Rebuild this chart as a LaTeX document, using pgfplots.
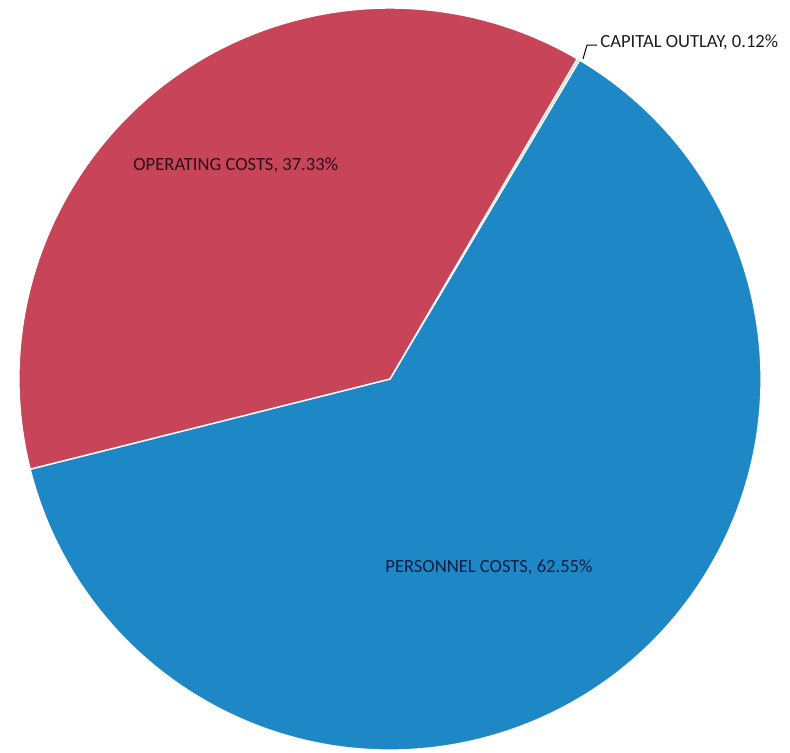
\documentclass[border=0pt]{standalone}
\usepackage{pgfplots}
\pgfplotsset{compat=1.18}
\usepackage{fontspec}
\setmainfont{Carlito}
\definecolor{pers}{RGB}{30,136,198}
\definecolor{oper}{RGB}{200,68,88}
\definecolor{capc}{RGB}{215,230,200}
% slice values (percent)
\def\vA{62.55}% Personnel costs
\def\vB{37.33}% Operating costs
\def\vC{0.12}% Capital outlay
\pgfmathsetmacro\aA{59.25}
\pgfmathsetmacro\aB{\aA-3.6*\vA}
\pgfmathsetmacro\aC{\aB-3.6*\vB}
\pgfmathsetmacro\aD{\aC-3.6*\vC}
\def\R{185.5pt}
\begin{document}
\begin{tikzpicture}
\begin{axis}[scale only axis, width=395pt, height=376pt,
  xmin=0, xmax=790, ymin=0, ymax=752, hide axis, clip=false]
\coordinate (SW) at (axis cs:0,0);
\coordinate (NE) at (axis cs:790,752);
\fill[pers, draw=white, line width=0.7pt] (axis cs:390,373) -- ++(\aA:\R) arc[start angle=\aA, end angle=\aB, radius=\R] -- cycle;
\fill[oper, draw=white, line width=0.7pt] (axis cs:390,373) -- ++(\aB:\R) arc[start angle=\aB, end angle=\aC, radius=\R] -- cycle;
\fill[capc, draw=white, line width=0.3pt] (axis cs:390,373) -- ++(\aC:\R) arc[start angle=\aC, end angle=\aD, radius=\R] -- cycle;
\node[anchor=west, inner sep=0pt, font=\fontsize{9.3}{11}\selectfont, text={rgb,255:red,45;green,15;blue,25}] at (axis cs:133,587) {OPERATING COSTS, 37.33\%};
\node[anchor=west, inner sep=0pt, font=\fontsize{9.3}{11}\selectfont, text={rgb,255:red,15;green,30;blue,70}] at (axis cs:385,185) {PERSONNEL COSTS, 62.55\%};
\node[anchor=west, inner sep=0pt, font=\fontsize{9.3}{11}\selectfont, text={rgb,255:red,30;green,30;blue,30}] at (axis cs:600,710) {CAPITAL OUTLAY, 0.12\%};
\draw[black, line width=0.5pt] (axis cs:583,693) -- (axis cs:587,707) -- (axis cs:597,707);
\end{axis}
\pgfresetboundingbox
\path[use as bounding box] (SW) rectangle (NE);
\end{tikzpicture}
\end{document}
